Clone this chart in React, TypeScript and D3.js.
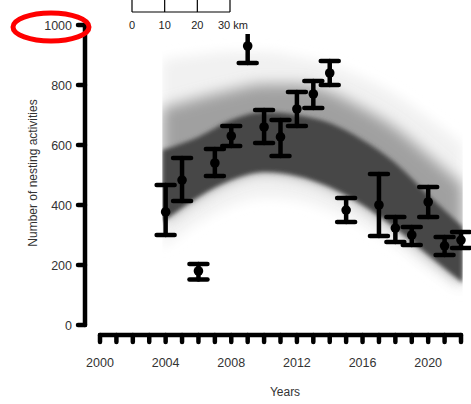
import React from 'react';
import * as d3 from 'd3';

// observed data (mean with error bars)
const years = [2004, 2005, 2006, 2007, 2008, 2009, 2010, 2011, 2012, 2013, 2014, 2015, 2017, 2018, 2019, 2020, 2021, 2022];
const means = [377, 483, 180, 540, 630, 930, 660, 627, 720, 770, 840, 383, 400, 323, 300, 410, 264, 283];
const lows = [300, 413, 152, 497, 597, 873, 607, 563, 663, 723, 800, 343, 297, 277, 267, 360, 233, 257];
const highs = [467, 557, 203, 587, 663, 990, 717, 683, 777, 813, 880, 423, 503, 360, 327, 460, 293, 310];

// model envelope
const bandYears = [2003.8, 2006, 2008, 2010, 2012, 2014, 2016, 2018, 2020, 2022.1];
const outerUpper = [883, 900, 910, 910, 893, 867, 823, 767, 690, 600];
const midUpper = [723, 757, 783, 803, 803, 777, 723, 657, 567, 467];
const coreUpper = [583, 627, 683, 710, 700, 673, 617, 540, 433, 327];
const coreLower = [343, 427, 483, 510, 497, 460, 400, 323, 233, 140];
const outerLower = [257, 343, 400, 427, 417, 383, 333, 267, 190, 117];

const yTicks = [0, 200, 400, 600, 800, 1000];
const xTicks = d3.range(2000, 2023);
const xLabels = [2000, 2004, 2008, 2012, 2016, 2020];
const scaleKm = [0, 10, 20, 30];

const W = 471, H = 404;
const FONT = '"Liberation Sans", Arial, Helvetica, sans-serif';

export default function App() {
  const x = d3.scaleLinear().domain([2000, 2022]).range([100, 461]);
  const y = d3.scaleLinear().domain([0, 1000]).range([325, 25]);
  const km = d3.scaleLinear().domain([0, 30]).range([132, 230]);

  const area = (up: number[], lo: number[]) =>
    d3.area<number>()
      .x((_, i) => x(bandYears[i]))
      .y0((_, i) => y(lo[i]))
      .y1((_, i) => y(up[i]))
      .curve(d3.curveMonotoneX)(bandYears.map((_, i) => i)) || '';

  const x0 = x(bandYears[0]);
  const x1 = x(bandYears[bandYears.length - 1]);

  return (
    <svg width={W} height={H} style={{ position: 'absolute', left: 0, top: 0, background: '#fff' }} fontFamily={FONT}>
      <defs>
        <clipPath id="bandClip">
          <rect x={x0} y={0} width={x1 - x0} height={H} />
        </clipPath>
        <filter id="b1" x="-20%" y="-40%" width="140%" height="180%">
          <feGaussianBlur stdDeviation={6} />
        </filter>
        <filter id="b2" x="-20%" y="-40%" width="140%" height="180%">
          <feGaussianBlur stdDeviation={7} />
        </filter>
        <filter id="b3" x="-20%" y="-40%" width="140%" height="180%">
          <feGaussianBlur stdDeviation={2.2} />
        </filter>
      </defs>

      {/* model envelope */}
      <g clipPath="url(#bandClip)">
        <path d={area(outerUpper, outerLower)} fill="#f1f1f1" filter="url(#b1)" />
        <path d={area(midUpper, coreLower)} fill="#a0a0a0" filter="url(#b2)" />
        <path d={area(coreUpper, coreLower)} fill="#474747" filter="url(#b3)" />
      </g>

      {/* error bars */}
      <g stroke="#000" strokeWidth={4.5} strokeLinecap="round">
        {years.map((yr, i) => (
          <g key={yr}>
            <line x1={x(yr)} x2={x(yr)} y1={y(lows[i])} y2={y(highs[i])} />
            <line x1={x(yr) - 9} x2={x(yr) + 9} y1={y(lows[i])} y2={y(lows[i])} />
            <line x1={x(yr) - 9} x2={x(yr) + 9} y1={y(highs[i])} y2={y(highs[i])} />
            <circle cx={x(yr)} cy={y(means[i])} r={4.8} fill="#000" stroke="none" />
          </g>
        ))}
      </g>

      {/* inset background + scale bar */}
      <rect x={112} y={0} width={150} height={34} fill="#fff" />
      <g stroke="#000" strokeWidth={1.2}>
        <line x1={km(0)} x2={km(30)} y1={12} y2={12} />
        {scaleKm.map(k => (
          <line key={k} x1={km(k)} x2={km(k)} y1={0} y2={12} />
        ))}
      </g>
      <g fontSize={11} fill="#222">
        {scaleKm.slice(0, 3).map(k => (
          <text key={k} x={km(k)} y={29} textAnchor="middle">{k}</text>
        ))}
        <text x={218} y={29} textAnchor="start">30 km</text>
      </g>

      {/* y axis */}
      <g stroke="#000" strokeLinecap="round">
        <line x1={85} x2={85} y1={y(1000)} y2={y(0)} strokeWidth={4.5} />
        {yTicks.map(t => (
          <line key={t} x1={78} x2={85} y1={y(t)} y2={y(t)} strokeWidth={4.5} />
        ))}
      </g>
      <g fontSize={12.5} fill="#333" textAnchor="end">
        {yTicks.map(t => (
          <text key={t} x={72} y={y(t) + 4.5}>{t}</text>
        ))}
      </g>
      <text transform="translate(37,173) rotate(-90)" textAnchor="middle" fontSize={12} fill="#333">
        Number of nesting activities
      </text>

      {/* x axis */}
      <g stroke="#000" strokeLinecap="round" strokeWidth={4.5}>
        <line x1={x(2000)} x2={x(2022)} y1={335} y2={335} />
        {xTicks.map(t => (
          <line key={t} x1={x(t)} x2={x(t)} y1={335} y2={342} />
        ))}
      </g>
      <g fontSize={12.5} fill="#333" textAnchor="middle">
        {xLabels.map(t => (
          <text key={t} x={x(t)} y={367}>{t}</text>
        ))}
      </g>
      <text x={285} y={396} textAnchor="middle" fontSize={12} fill="#333">Years</text>

      {/* highlight ellipse */}
      <ellipse cx={51} cy={27} rx={38} ry={14} fill="none" stroke="#ff0000" strokeWidth={5} />
    </svg>
  );
}
